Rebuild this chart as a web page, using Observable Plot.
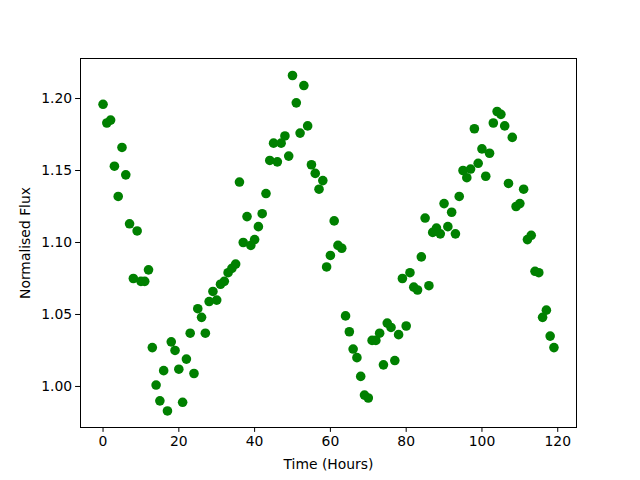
<!DOCTYPE html>
<html>
<head>
<meta charset="utf-8">
<script src="https://cdn.jsdelivr.net/npm/d3@7"></script>
<script src="https://cdn.jsdelivr.net/npm/@observablehq/plot@0.6"></script>
<style>
  html, body { margin: 0; padding: 0; background: #fff; }
</style>
</head>
<body>
<div id="chart"></div>
<script>
const hours = d3.range(0, 120);
const flux = [
  1.196, 1.183, 1.185, 1.153, 1.132, 1.166, 1.147, 1.113, 1.075, 1.108,
  1.073, 1.073, 1.081, 1.027, 1.001, 0.990, 1.011, 0.983, 1.031, 1.025,
  1.012, 0.989, 1.019, 1.037, 1.009, 1.054, 1.048, 1.037, 1.059, 1.066,
  1.060, 1.071, 1.073, 1.079, 1.082, 1.085, 1.142, 1.100, 1.118, 1.098,
  1.102, 1.111, 1.120, 1.134, 1.157, 1.169, 1.156, 1.169, 1.174, 1.160,
  1.216, 1.197, 1.176, 1.209, 1.181, 1.154, 1.148, 1.137, 1.143, 1.083,
  1.091, 1.115, 1.098, 1.096, 1.049, 1.038, 1.026, 1.020, 1.007, 0.994,
  0.992, 1.032, 1.032, 1.037, 1.015, 1.044, 1.041, 1.018, 1.036, 1.075,
  1.042, 1.079, 1.069, 1.067, 1.090, 1.117, 1.070, 1.107, 1.110, 1.106,
  1.127, 1.111, 1.121, 1.106, 1.132, 1.150, 1.145, 1.151, 1.179, 1.155,
  1.165, 1.146, 1.162, 1.183, 1.191, 1.189, 1.181, 1.141, 1.173, 1.125,
  1.127, 1.137, 1.102, 1.105, 1.080, 1.079, 1.048, 1.053, 1.035, 1.027
];
const xTicks = [0, 20, 40, 60, 80, 100, 120];
const yTicks = [1.00, 1.05, 1.10, 1.15, 1.20];
const xLabel = "Time (Hours)";
const yLabel = "Normalised Flux";

const data = hours.map((h, i) => ({hour: h, flux: flux[i]}));

const chart = Plot.plot({
  width: 640,
  height: 480,
  marginLeft: 80,
  marginRight: 64,
  marginTop: 58,
  marginBottom: 53,
  style: {fontFamily: "DejaVu Sans", fontSize: "13.9px", color: "#000", background: "#fff"},
  x: {domain: [-5.95, 124.95]},
  y: {domain: [0.9715, 1.2278]},
  marks: [
    Plot.dot(data, {x: "hour", y: "flux", r: 4.8, fill: "#008000", stroke: "none"}),
    Plot.frame({stroke: "#000", strokeWidth: 1}),
    Plot.axisX({ticks: xTicks, tickSize: 4.9, tickPadding: 3.5, tickFormat: d => String(d),
      label: xLabel, labelAnchor: "center", labelArrow: "none", labelOffset: 41}),
    Plot.axisY({ticks: yTicks, tickSize: 4.9, tickPadding: 3.5, tickFormat: d3.format(".2f"),
      label: yLabel, labelAnchor: "center", labelArrow: "none", labelOffset: 60})
  ]
});
document.getElementById("chart").appendChild(chart);
</script>
</body>
</html>
